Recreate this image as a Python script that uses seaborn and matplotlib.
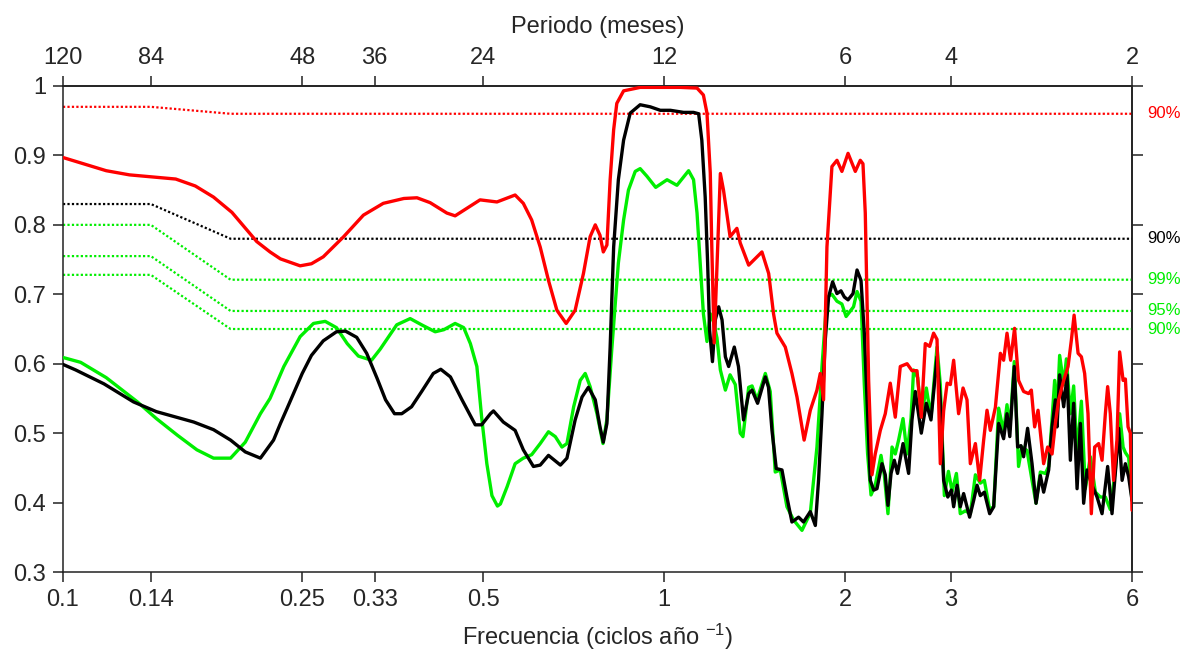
"""
Coherence spectra vs frequency with significance levels (log frequency axis,
period in months on top).
"""

import matplotlib
matplotlib.use("Agg")
import matplotlib.pyplot as plt
from matplotlib.ticker import NullLocator
import seaborn as sns

# ── Data ─────────────────────────────────────────────────────────────────────
red_freq = [0.100, 0.118, 0.129, 0.141, 0.154, 0.166, 0.178, 0.191, 0.210, 0.221,
            0.230, 0.248, 0.259, 0.271, 0.293, 0.316, 0.341, 0.369, 0.388, 0.408,
            0.435, 0.449, 0.470, 0.494, 0.527, 0.565, 0.583, 0.602, 0.622, 0.642,
            0.663, 0.687, 0.711, 0.734, 0.753, 0.768, 0.782, 0.792, 0.803, 0.813,
            0.824, 0.834, 0.856, 0.912, 1.064, 1.134, 1.162, 1.178, 1.193, 1.200,
            1.211, 1.240, 1.255, 1.287, 1.321, 1.338, 1.382, 1.454, 1.492, 1.520,
            1.540, 1.590, 1.631, 1.663, 1.709, 1.750, 1.795, 1.818, 1.841, 1.865,
            1.901, 1.938, 1.975, 2.022, 2.079, 2.119, 2.141, 2.160, 2.188, 2.216,
            2.244, 2.288, 2.332, 2.377, 2.423, 2.470, 2.535, 2.583, 2.633, 2.677,
            2.718, 2.764, 2.806, 2.843, 2.879, 2.916, 2.955, 2.992, 3.030, 3.088,
            3.141, 3.189, 3.230, 3.293, 3.347, 3.399, 3.443, 3.487, 3.555, 3.624,
            3.669, 3.717, 3.769, 3.826, 3.885, 3.961, 4.038, 4.080, 4.132, 4.186,
            4.277, 4.343, 4.417, 4.473, 4.530, 4.618, 4.696, 4.756, 4.806, 4.880,
            4.942, 5.004, 5.069, 5.134, 5.200, 5.280, 5.349, 5.417, 5.465, 5.521,
            5.591, 5.663, 5.722, 5.798, 5.849, 5.909, 5.961, 6.000]
red_coh = [0.897, 0.878, 0.872, 0.869, 0.866, 0.856, 0.840, 0.818, 0.776, 0.761,
           0.751, 0.741, 0.744, 0.754, 0.783, 0.814, 0.831, 0.838, 0.839, 0.832,
           0.817, 0.813, 0.824, 0.836, 0.833, 0.843, 0.831, 0.807, 0.768, 0.720,
           0.677, 0.658, 0.677, 0.730, 0.783, 0.800, 0.785, 0.761, 0.771, 0.865,
           0.937, 0.975, 0.993, 0.998, 0.998, 0.997, 0.987, 0.961, 0.875, 0.768,
           0.630, 0.874, 0.850, 0.783, 0.795, 0.774, 0.742, 0.761, 0.730, 0.672,
           0.644, 0.624, 0.586, 0.552, 0.490, 0.533, 0.562, 0.586, 0.548, 0.768,
           0.884, 0.893, 0.877, 0.903, 0.877, 0.893, 0.888, 0.817, 0.576, 0.440,
           0.470, 0.504, 0.528, 0.572, 0.523, 0.596, 0.600, 0.590, 0.590, 0.523,
           0.629, 0.625, 0.644, 0.635, 0.456, 0.532, 0.572, 0.570, 0.605, 0.528,
           0.565, 0.548, 0.456, 0.485, 0.432, 0.490, 0.533, 0.504, 0.537, 0.615,
           0.605, 0.644, 0.605, 0.651, 0.576, 0.560, 0.557, 0.562, 0.509, 0.533,
           0.456, 0.480, 0.470, 0.514, 0.548, 0.576, 0.596, 0.634, 0.670, 0.615,
           0.610, 0.586, 0.528, 0.384, 0.480, 0.485, 0.461, 0.528, 0.567, 0.528,
           0.432, 0.490, 0.617, 0.576, 0.578, 0.509, 0.500, 0.389]

black_freq = [0.100, 0.105, 0.117, 0.131, 0.143, 0.165, 0.178, 0.190, 0.201, 0.213,
              0.224, 0.230, 0.236, 0.250, 0.259, 0.271, 0.285, 0.295, 0.308, 0.320,
              0.333, 0.344, 0.356, 0.366, 0.380, 0.395, 0.413, 0.425, 0.441, 0.461,
              0.485, 0.497, 0.514, 0.520, 0.540, 0.565, 0.583, 0.606, 0.622, 0.642,
              0.672, 0.689, 0.711, 0.730, 0.748, 0.768, 0.782, 0.792, 0.803, 0.813,
              0.824, 0.839, 0.856, 0.878, 0.912, 0.948, 0.985, 1.024, 1.077, 1.119,
              1.141, 1.155, 1.170, 1.181, 1.190, 1.203, 1.216, 1.232, 1.248, 1.264,
              1.280, 1.308, 1.329, 1.355, 1.382, 1.400, 1.430, 1.473, 1.491, 1.511,
              1.536, 1.570, 1.600, 1.631, 1.673, 1.705, 1.750, 1.784, 1.806, 1.830,
              1.853, 1.877, 1.906, 1.938, 1.968, 1.994, 2.022, 2.061, 2.093, 2.125,
              2.152, 2.179, 2.202, 2.231, 2.259, 2.303, 2.332, 2.356, 2.384, 2.414,
              2.444, 2.496, 2.550, 2.583, 2.616, 2.677, 2.729, 2.778, 2.843, 2.879,
              2.916, 2.963, 3.004, 3.030, 3.070, 3.108, 3.148, 3.221, 3.271, 3.314,
              3.356, 3.408, 3.478, 3.532, 3.600, 3.669, 3.717, 3.757, 3.822, 3.871,
              3.921, 3.961, 4.022, 4.091, 4.154, 4.223, 4.277, 4.360, 4.417, 4.473,
              4.502, 4.547, 4.618, 4.679, 4.738, 4.798, 4.861, 4.923, 4.985, 5.050,
              5.148, 5.248, 5.349, 5.465, 5.557, 5.650, 5.700, 5.776, 5.849, 5.923,
              6.000]
black_coh = [0.599, 0.591, 0.571, 0.545, 0.531, 0.516, 0.505, 0.490, 0.473, 0.464,
             0.490, 0.514, 0.536, 0.586, 0.612, 0.633, 0.646, 0.647, 0.638, 0.615,
             0.579, 0.548, 0.528, 0.528, 0.538, 0.560, 0.586, 0.592, 0.581, 0.548,
             0.512, 0.512, 0.528, 0.532, 0.516, 0.504, 0.476, 0.452, 0.454, 0.468,
             0.454, 0.464, 0.519, 0.552, 0.566, 0.548, 0.509, 0.487, 0.514, 0.624,
             0.768, 0.865, 0.922, 0.961, 0.973, 0.970, 0.965, 0.965, 0.962, 0.962,
             0.960, 0.922, 0.840, 0.745, 0.648, 0.603, 0.663, 0.682, 0.663, 0.610,
             0.596, 0.624, 0.596, 0.519, 0.557, 0.562, 0.543, 0.581, 0.566, 0.504,
             0.449, 0.447, 0.408, 0.372, 0.379, 0.372, 0.387, 0.367, 0.432, 0.528,
             0.634, 0.696, 0.718, 0.701, 0.705, 0.696, 0.692, 0.701, 0.735, 0.720,
             0.644, 0.528, 0.432, 0.418, 0.420, 0.456, 0.440, 0.396, 0.442, 0.461,
             0.442, 0.485, 0.442, 0.519, 0.560, 0.500, 0.543, 0.519, 0.610, 0.548,
             0.432, 0.408, 0.418, 0.394, 0.425, 0.394, 0.413, 0.379, 0.403, 0.425,
             0.410, 0.415, 0.384, 0.394, 0.514, 0.492, 0.528, 0.495, 0.596, 0.480,
             0.482, 0.466, 0.507, 0.456, 0.399, 0.439, 0.415, 0.447, 0.509, 0.548,
             0.509, 0.584, 0.538, 0.584, 0.461, 0.543, 0.420, 0.514, 0.399, 0.447,
             0.425, 0.408, 0.384, 0.452, 0.384, 0.461, 0.507, 0.432, 0.456, 0.437,
             0.403]

green_freq = [0.100, 0.107, 0.118, 0.133, 0.143, 0.155, 0.167, 0.178, 0.190, 0.201,
              0.213, 0.221, 0.233, 0.248, 0.261, 0.273, 0.285, 0.297, 0.310, 0.326,
              0.337, 0.359, 0.378, 0.395, 0.416, 0.430, 0.449, 0.464, 0.476, 0.488,
              0.497, 0.507, 0.517, 0.528, 0.534, 0.548, 0.565, 0.583, 0.602, 0.622,
              0.642, 0.659, 0.676, 0.689, 0.707, 0.725, 0.739, 0.753, 0.773, 0.791,
              0.803, 0.818, 0.839, 0.856, 0.872, 0.895, 0.912, 0.936, 0.968, 1.011,
              1.050, 1.098, 1.119, 1.134, 1.148, 1.162, 1.178, 1.193, 1.208, 1.224,
              1.240, 1.264, 1.287, 1.313, 1.338, 1.352, 1.382, 1.400, 1.427, 1.473,
              1.501, 1.530, 1.560, 1.600, 1.641, 1.695, 1.750, 1.795, 1.830, 1.865,
              1.901, 1.938, 1.975, 2.007, 2.065, 2.093, 2.125, 2.152, 2.179, 2.208,
              2.244, 2.294, 2.323, 2.356, 2.393, 2.423, 2.454, 2.496, 2.535, 2.574,
              2.599, 2.640, 2.677, 2.729, 2.778, 2.843, 2.879, 2.924, 2.970, 3.012,
              3.062, 3.108, 3.169, 3.230, 3.293, 3.356, 3.408, 3.478, 3.532, 3.600,
              3.669, 3.717, 3.757, 3.822, 3.885, 3.936, 4.013, 4.091, 4.154, 4.223,
              4.305, 4.360, 4.417, 4.461, 4.502, 4.547, 4.618, 4.666, 4.738, 4.798,
              4.861, 4.942, 5.017, 5.114, 5.214, 5.314, 5.417, 5.521, 5.628, 5.722,
              5.798, 5.849, 5.923, 6.000]
green_coh = [0.609, 0.602, 0.580, 0.545, 0.521, 0.497, 0.476, 0.464, 0.464, 0.487,
             0.528, 0.550, 0.596, 0.639, 0.658, 0.661, 0.652, 0.629, 0.611, 0.605,
             0.621, 0.656, 0.665, 0.656, 0.646, 0.649, 0.658, 0.652, 0.629, 0.596,
             0.523, 0.456, 0.410, 0.395, 0.398, 0.423, 0.456, 0.464, 0.469, 0.485,
             0.502, 0.495, 0.480, 0.485, 0.538, 0.576, 0.586, 0.567, 0.528, 0.485,
             0.520, 0.620, 0.745, 0.807, 0.850, 0.877, 0.881, 0.870, 0.854, 0.865,
             0.857, 0.878, 0.865, 0.817, 0.745, 0.672, 0.632, 0.672, 0.660, 0.637,
             0.591, 0.562, 0.584, 0.570, 0.500, 0.495, 0.566, 0.568, 0.548, 0.586,
             0.560, 0.444, 0.447, 0.394, 0.375, 0.360, 0.385, 0.480, 0.596, 0.696,
             0.700, 0.690, 0.686, 0.668, 0.682, 0.704, 0.690, 0.570, 0.471, 0.411,
             0.425, 0.468, 0.440, 0.384, 0.480, 0.470, 0.490, 0.521, 0.470, 0.522,
             0.591, 0.580, 0.523, 0.565, 0.523, 0.624, 0.570, 0.410, 0.445, 0.416,
             0.442, 0.384, 0.388, 0.384, 0.440, 0.428, 0.432, 0.390, 0.394, 0.536,
             0.502, 0.541, 0.505, 0.603, 0.452, 0.480, 0.475, 0.432, 0.399, 0.444,
             0.442, 0.452, 0.520, 0.576, 0.528, 0.612, 0.570, 0.607, 0.528, 0.568,
             0.470, 0.546, 0.420, 0.466, 0.415, 0.408, 0.408, 0.390, 0.447, 0.528,
             0.480, 0.472, 0.465, 0.403]

# significance levels (step from long to short periods)
sig_freq = [0.10, 0.14, 0.19, 6.0]
sig_red90 = [0.970, 0.970, 0.960, 0.960]
sig_black90 = [0.830, 0.830, 0.780, 0.780]
sig_green99 = [0.800, 0.800, 0.721, 0.721]
sig_green95 = [0.755, 0.755, 0.676, 0.676]
sig_green90 = [0.728, 0.728, 0.650, 0.650]

freq_ticks = [0.1, 0.14, 0.25, 0.33, 0.5, 1, 2, 3, 6]
freq_labels = ["0.1", "0.14", "0.25", "0.33", "0.5", "1", "2", "3", "6"]
period_labels = ["120", "84", "48", "36", "24", "12", "6", "4", "2"]
coh_ticks = [0.3, 0.4, 0.5, 0.6, 0.7, 0.8, 0.9, 1.0]
coh_labels = ["0.3", "0.4", "0.5", "0.6", "0.7", "0.8", "0.9", "1"]

RED, BLACK, GREEN = "#ff0000", "#000000", "#00ee00"
AXC = "#222222"
FS = 17

sns.set_theme(style="ticks")
plt.rcParams["font.family"] = ["Liberation Sans", "DejaVu Sans"]
plt.rcParams["mathtext.default"] = "regular"

fig = plt.figure(figsize=(11.86, 6.59), dpi=100)
ax = fig.add_axes([0.0531, 0.132, 0.9014, 0.7375])

# significance lines
dots = (0, (1, 1))
for vals, c in [(sig_red90, RED), (sig_black90, BLACK), (sig_green99, GREEN),
                (sig_green95, GREEN), (sig_green90, GREEN)]:
    ax.plot(sig_freq, vals, color=c, lw=1.6, linestyle=dots, zorder=2)

# coherence curves
for fx, cy, c in [(green_freq, green_coh, GREEN), (black_freq, black_coh, BLACK),
                  (red_freq, red_coh, RED)]:
    sns.lineplot(x=fx, y=cy, ax=ax, color=c, linewidth=2.4, estimator=None,
                 sort=False, legend=False, zorder=3)

ax.set_xscale("log")
ax.set_xlim(0.1, 6)
ax.set_ylim(0.3, 1.0)
ax.set_xticks(freq_ticks)
ax.set_xticklabels(freq_labels)
ax.xaxis.set_minor_locator(NullLocator())
ax.set_yticks(coh_ticks)
ax.set_yticklabels(coh_labels)
ax.tick_params(direction="out", length=7, width=1.1, color=AXC,
               labelsize=FS, pad=5)
ax.set_xlabel(r"Frecuencia (ciclos año $^{-1}$)", fontsize=FS, labelpad=8)
ax.set_ylabel("")
for sp in ax.spines.values():
    sp.set_visible(True)
    sp.set_color(AXC)
    sp.set_linewidth(1.1)

# top axis: period in months
top = ax.secondary_xaxis("top")
top.set_xticks(freq_ticks)
top.set_xticklabels(period_labels)
top.xaxis.set_minor_locator(NullLocator())
top.tick_params(direction="out", length=7, width=1.1, color=AXC,
                labelsize=FS, pad=5)
top.set_xlabel("Periodo (meses)", fontsize=FS, labelpad=10)
top.spines["top"].set_color(AXC)

# right axis: ticks only
right = ax.secondary_yaxis("right")
right.set_yticks(coh_ticks)
right.set_yticklabels([])
right.tick_params(direction="out", length=8, width=1.1, color=AXC)
right.spines["right"].set_color(AXC)

# significance labels
yt = ax.get_yaxis_transform()
for yv, txt, c in [(sig_red90[-1], "90%", RED), (sig_black90[-1], "90%", BLACK),
                   (sig_green99[-1], "99%", GREEN), (sig_green95[-1], "95%", GREEN),
                   (sig_green90[-1], "90%", GREEN)]:
    ax.text(1.014, yv, txt, color=c, fontsize=12, transform=yt,
            ha="left", va="center", clip_on=False)

fig.savefig("out.png", dpi=100)
plt.close(fig)
